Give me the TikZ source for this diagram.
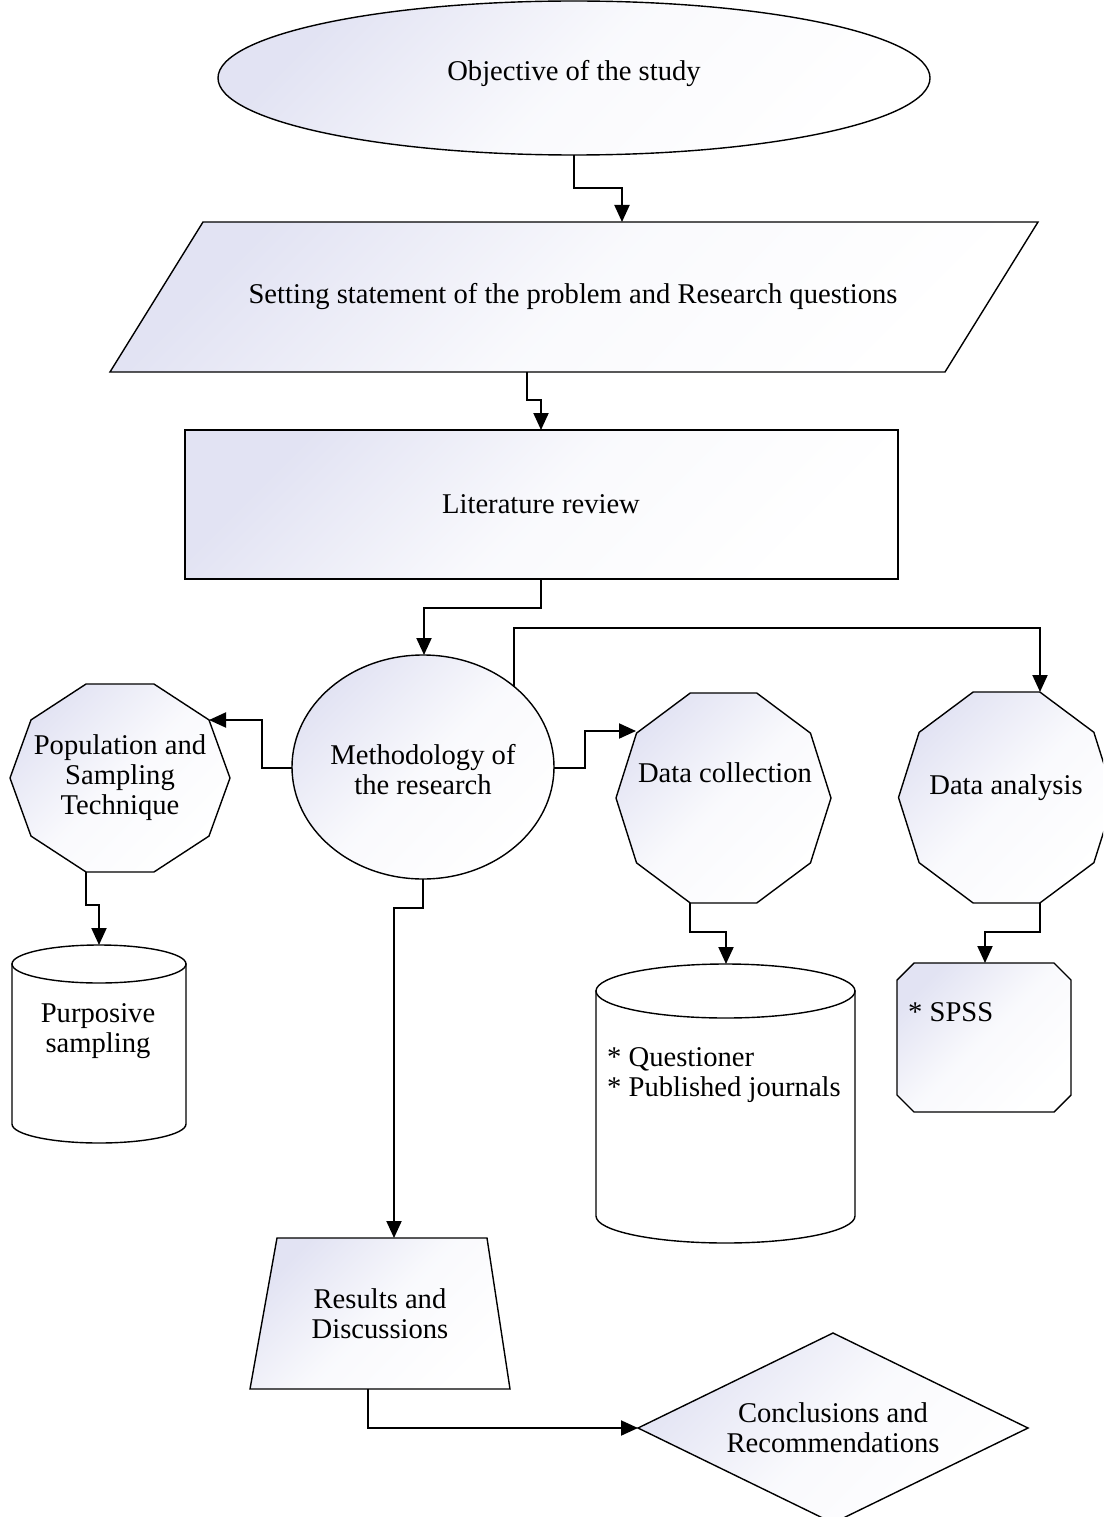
\documentclass[tikz,border=0pt]{standalone}
\usepackage{fontspec}
\setmainfont{Liberation Serif}
\usetikzlibrary{arrows.meta}
\definecolor{lav}{RGB}{226,227,243}
\tikzset{
  fillshade/.style={top color=lav, bottom color=white, middle color=lav!20!white, shading angle=45},
  outl/.style={draw=black, line width=1.4pt},
  arr/.style={draw=black, line width=2pt, -{Triangle[length=17pt,width=15pt]}},
  txt/.style={align=center, font=\fontsize{28.6}{30}\selectfont, inner sep=0pt},
  ltxt/.style={align=left, anchor=west, font=\fontsize{28.6}{30}\selectfont, inner sep=0pt},
}
\newcommand\decashape[4]{%
  \path[outl,fillshade] ({#1+#3},#2)
    \foreach \a in {36,72,...,324} {-- ({#1+#3*cos(\a)},{#2-#4*sin(\a)})} -- cycle;}
\begin{document}
\begin{tikzpicture}[x=1pt,y=-1pt]
\useasboundingbox (0,0) rectangle (1103,1517);
\clip (0,0) rectangle (1103,1517);
\fill[white] (0,0) rectangle (1103,1517);

% Objective ellipse
\path[outl,fillshade] (574,78) ellipse [x radius=356, y radius=77];
\node[txt] (obj) at (574,74) {Objective of the study};

% Parallelogram
\path[outl,fillshade] (203,222) -- (1038,222) -- (945,372) -- (110,372) -- cycle;
\node[txt] (prob) at (573,297) {Setting statement of the problem and Research questions};

% Literature rectangle
\path[outl,fillshade] (185,430) rectangle (898,579);
\node[txt] (lit) at (541,504) {Literature review};

% Methodology circle
\path[outl,fillshade] (423,767) ellipse [x radius=131, y radius=112];
\node[txt] (meth) at (423,770) {Methodology of\\the research};

% Decagons
\decashape{120}{778}{110}{98.8}
\node[txt] (pop) at (120,778) {Population and\\Sampling\\Technique};
\decashape{723.5}{798}{107.5}{110.4}
\node[txt] (dc) at (725,773) {Data collection};
\decashape{1006.5}{797.5}{108}{110.9}
\node[txt] (da) at (1006,788) {Data analysis};

% Cylinder Purposive
\path[outl,fill=white] (12,964) -- (12,1124) arc[start angle=180, end angle=0, x radius=87, y radius=19] -- (186,964) -- cycle;
\path[outl,fill=white] (99,964) ellipse [x radius=87, y radius=19];
\node[txt] (purp) at (98,1031) {Purposive\\sampling};

% Cylinder Questioner
\path[outl,fill=white] (596,991) -- (596,1216) arc[start angle=180, end angle=0, x radius=129.5, y radius=27] -- (855,991) -- cycle;
\path[outl,fill=white] (725.5,991) ellipse [x radius=129.5, y radius=27];
\node[ltxt] (quest) at (607,1075) {* Questioner\\* Published journals};

% SPSS chamfered box
\path[outl,fillshade] (914,963) -- (1054,963) -- (1071,980) -- (1071,1095) -- (1054,1112) -- (914,1112) -- (897,1095) -- (897,980) -- cycle;
\node[ltxt] (spss) at (908,1012) {* SPSS};

% Trapezoid
\path[outl,fillshade] (277,1238) -- (487,1238) -- (510,1389) -- (250,1389) -- cycle;
\node[txt] (res) at (380,1314) {Results and\\Discussions};

% Diamond
\path[outl,fillshade] (638,1428) -- (833,1333) -- (1028,1428) -- (833,1523) -- cycle;
\node[txt] (conc) at (833,1428) {Conclusions and\\Recommendations};

% Connector endpoints
\coordinate (objB) at (574,155);
\coordinate (probT) at (622,222);
\coordinate (probB) at (527,372);
\coordinate (litT) at (541,430);
\coordinate (litB) at (541,579);
\coordinate (methT) at (424,655);
\coordinate (methNE) at (514,687);
\coordinate (daT) at (1040,692);
\coordinate (methW) at (292,768);
\coordinate (popNE) at (209,720);
\coordinate (methE) at (554,768);
\coordinate (dcNW) at (636,731);
\coordinate (popB) at (86,872);
\coordinate (purpT) at (99,945);
\coordinate (dcB) at (690,903);
\coordinate (questT) at (726,964);
\coordinate (daB) at (1040,903);
\coordinate (spssT) at (985,963);
\coordinate (methB) at (423,879);
\coordinate (resT) at (394,1238);
\coordinate (resB) at (368,1389);
\coordinate (concW) at (638,1428);

% Connectors
\draw[arr] (objB) -- ++(0,33) -| (probT);
\draw[arr] (probB) -- ++(0,28) -| (litT);
\draw[arr] (litB) -- ++(0,29) -| (methT);
\draw[arr] (methNE) |- (760,628) -| (daT);
\draw[arr] (methW) -| (262,744) |- (popNE);
\draw[arr] (methE) -| (585,750) |- (dcNW);
\draw[arr] (popB) -- ++(0,33) -| (purpT);
\draw[arr] (dcB) -- ++(0,29) -| (questT);
\draw[arr] (daB) -- ++(0,29) -| (spssT);
\draw[arr] (methB) -- ++(0,29) -| (resT);
\draw[arr] (resB) |- (concW);
\end{tikzpicture}
\end{document}
